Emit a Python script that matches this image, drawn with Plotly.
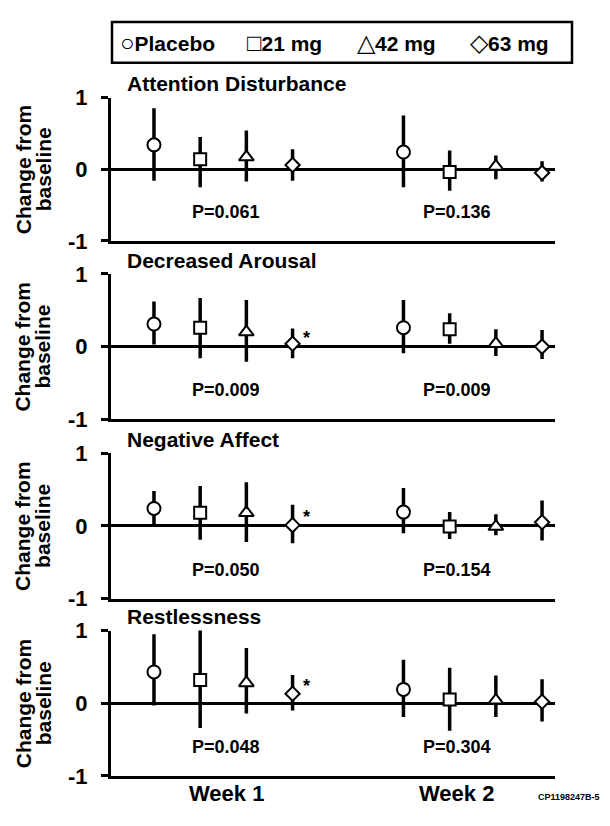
import plotly.graph_objects as go

# ---------------- data ----------------
panels = ["Attention Disturbance", "Decreased Arousal", "Negative Affect", "Restlessness"]
doses = ["Placebo", "21 mg", "42 mg", "63 mg"]
weeks = ["Week 1", "Week 2"]

# order: Week1 (Placebo, 21, 42, 63), Week2 (Placebo, 21, 42, 63)
attention_mean = [0.34, 0.14, 0.17, 0.06, 0.24, -0.04, 0.04, -0.05]
attention_hi = [0.85, 0.45, 0.54, 0.28, 0.75, 0.26, 0.19, 0.11]
attention_lo = [-0.16, -0.25, -0.17, -0.16, -0.25, -0.30, -0.14, -0.17]

arousal_mean = [0.31, 0.26, 0.20, 0.04, 0.26, 0.24, 0.04, 0.00]
arousal_hi = [0.62, 0.67, 0.64, 0.25, 0.64, 0.46, 0.24, 0.23]
arousal_lo = [0.03, -0.16, -0.21, -0.16, -0.09, 0.04, -0.13, -0.17]

affect_mean = [0.24, 0.18, 0.18, 0.01, 0.19, -0.01, -0.01, 0.05]
affect_hi = [0.48, 0.55, 0.60, 0.29, 0.52, 0.19, 0.16, 0.35]
affect_lo = [0.02, -0.19, -0.22, -0.24, -0.10, -0.18, -0.13, -0.20]

restless_mean = [0.43, 0.32, 0.28, 0.13, 0.19, 0.05, 0.04, 0.02]
restless_hi = [0.95, 1.01, 0.76, 0.39, 0.60, 0.49, 0.38, 0.33]
restless_lo = [-0.03, -0.34, -0.14, -0.10, -0.19, -0.38, -0.19, -0.25]

p_values = [["P=0.061", "P=0.136"], ["P=0.009", "P=0.009"],
            ["P=0.050", "P=0.154"], ["P=0.048", "P=0.304"]]
# (week index, dose index) marked with *
significant = [[], [(0, 3), (1, 3)], [(0, 3)], [(0, 3)]]

y_ticks = [-1, 0, 1]
y_tick_labels = ["-1", "0", "1"]
y_title_lines = ["Change from", "baseline"]
footnote = "CP1198247B-5"

means = [attention_mean, arousal_mean, affect_mean, restless_mean]
his = [attention_hi, arousal_hi, affect_hi, restless_hi]
los = [attention_lo, arousal_lo, affect_lo, restless_lo]

# ---------------- layout helpers ----------------
PAGE_MARGIN = 8                      # default body margin of the html page
W, H = 610 - 2 * PAGE_MARGIN, 826 - 2 * PAGE_MARGIN
FONT = "Liberation Sans, Arial, sans-serif"
week_start = [0.0, 5.4]
x_range = [-0.93, 8.68]
label_x = [1.56, 6.55]          # horizontal centre for P-values / week labels
symbols = ["circle", "square", "triangle-up", "diamond"]
sizes = [13, 12, 13, 11]
panel_px = [(88, 236), (270, 420), (455, 605), (638, 788)]
y_title_px = [23, 43]


def px_x(v):
    return (v - PAGE_MARGIN) / W


def px_y(v):
    return 1 - (v - PAGE_MARGIN) / H


fig = go.Figure()
annotations = []
shapes = []

for k in range(4):
    ax = "" if k == 0 else str(k + 1)
    for d in range(4):
        xs, ys, ep, em = [], [], [], []
        for w in range(2):
            i = w * 4 + d
            xs.append(week_start[w] + d)
            ys.append(means[k][i])
            ep.append(his[k][i] - means[k][i])
            em.append(means[k][i] - los[k][i])
        fig.add_trace(go.Scatter(
            x=xs, y=ys, mode="markers", name=doses[d], showlegend=False,
            xaxis="x" + ax, yaxis="y" + ax, cliponaxis=False,
            marker=dict(symbol=symbols[d], size=sizes[d], color="white",
                        line=dict(color="black", width=2)),
            error_y=dict(type="data", symmetric=False, array=ep, arrayminus=em,
                         color="black", thickness=3.5, width=0),
        ))
    top, bot = panel_px[k]
    fig.layout["xaxis" + ax] = dict(
        domain=[px_x(111), px_x(555)], range=x_range, showline=True,
        linecolor="black", linewidth=3, showticklabels=False, ticks="",
        showgrid=False, zeroline=False, anchor="y" + ax, fixedrange=True)
    fig.layout["yaxis" + ax] = dict(
        domain=[px_y(bot), px_y(top)], range=[-1, 1], showline=True,
        linecolor="black", linewidth=3, ticks="outside", ticklen=7,
        tickwidth=3, tickcolor="black", tickvals=y_ticks, ticktext=y_tick_labels,
        ticklabelstandoff=9,
        tickfont=dict(family=FONT, size=22, color="black", weight="bold"),
        showgrid=False, zeroline=True, zerolinecolor="black", zerolinewidth=2.5,
        anchor="x" + ax, fixedrange=True)

    # panel title
    annotations.append(dict(
        text=f"<b>{panels[k]}</b>", xref="paper", yref="paper",
        x=px_x(125), y=px_y(top - 14), xanchor="left", yanchor="middle",
        showarrow=False, font=dict(family=FONT, size=21, color="black")))
    # y-axis title (two rotated lines)
    for j, line in enumerate(y_title_lines):
        annotations.append(dict(
            text=f"<b>{line}</b>", xref="paper", yref="paper",
            x=px_x(y_title_px[j]), y=px_y((top + bot) / 2),
            xanchor="center", yanchor="middle",
            textangle=-90, showarrow=False,
            font=dict(family=FONT, size=21, color="black")))
    # P values
    for w in range(2):
        annotations.append(dict(
            text=f"<b>{p_values[k][w]}</b>", xref="x" + ax, yref="y" + ax,
            x=label_x[w], y=-0.6, xanchor="center", yanchor="middle",
            showarrow=False, font=dict(family=FONT, size=18, color="black")))
    # significance asterisks
    for (w, d) in significant[k]:
        i = w * 4 + d
        annotations.append(dict(
            text="<b>*</b>", xref="x" + ax, yref="y" + ax,
            x=week_start[w] + d + 0.3, y=means[k][i] + 0.4 * (his[k][i] - means[k][i]),
            xanchor="center", yanchor="middle", showarrow=False,
            font=dict(family=FONT, size=18, color="black")))

# week labels
for w in range(2):
    annotations.append(dict(
        text=f"<b>{weeks[w]}</b>", xref="x4", yref="paper",
        x=label_x[w], y=px_y(806), xanchor="center", yanchor="middle",
        showarrow=False, font=dict(family=FONT, size=22, color="black")))

# footnote
annotations.append(dict(
    text=f"<b>{footnote}</b>", xref="paper", yref="paper",
    x=1.0, y=px_y(810), xanchor="right", yanchor="middle",
    showarrow=False, font=dict(family=FONT, size=9, color="black")))

# legend box drawn as text
shapes.append(dict(type="rect", xref="paper", yref="paper",
                   x0=px_x(112), x1=px_x(572), y0=px_y(52), y1=px_y(10),
                   line=dict(color="black", width=2.5), fillcolor="white"))
legend_marks = ["○", "□", "△", "◇"]
legend_x = [118, 245, 355, 468]
for d in range(4):
    annotations.append(dict(
        text=f"<span style='font-size:24px'>{legend_marks[d]}</span><b>{doses[d]}</b>",
        xref="paper", yref="paper",
        x=px_x(legend_x[d]), y=px_y(31), xanchor="left", yanchor="middle",
        showarrow=False, font=dict(family=FONT, size=21, color="black")))

fig.update_layout(
    width=W, height=H, margin=dict(l=0, r=0, t=0, b=0),
    paper_bgcolor="white", plot_bgcolor="white", showlegend=False,
    annotations=annotations, shapes=shapes,
)

fig.write_html("out.html", config={"displayModeBar": False})
